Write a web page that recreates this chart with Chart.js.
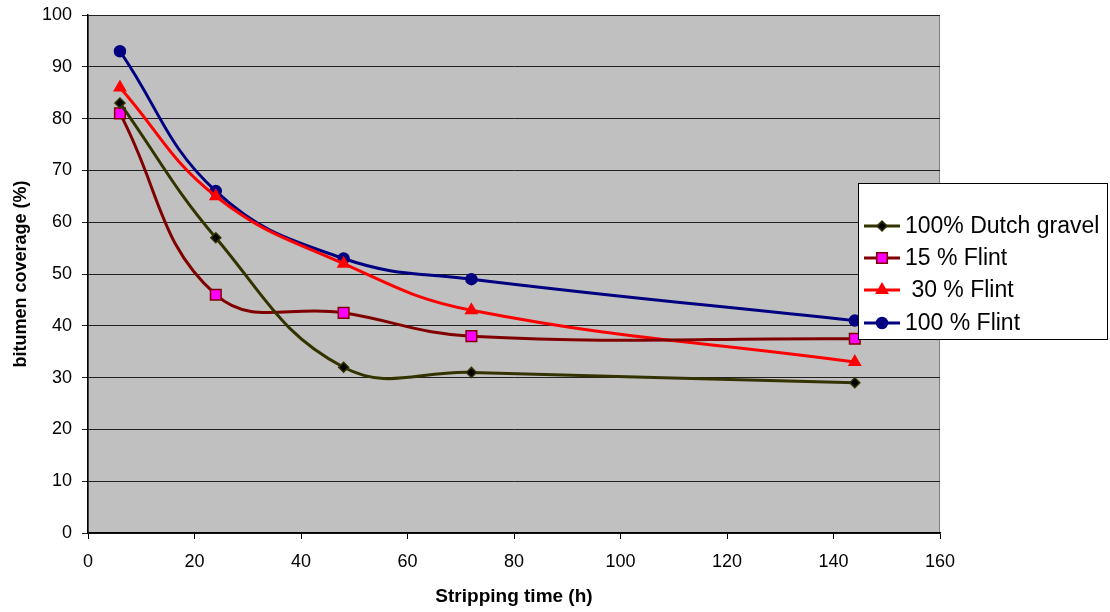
<!DOCTYPE html>
<html>
<head>
<meta charset="utf-8">
<script src="https://cdn.jsdelivr.net/npm/chart.js@4/dist/chart.umd.min.js"></script>
<style>
html,body{margin:0;padding:0;background:#fff;}
#wrap{position:relative;width:1110px;height:612px;}
</style>
</head>
<body>
<div id="wrap"><canvas id="c" width="1110" height="612"></canvas></div>
<script>
const hours = [6, 24, 48, 72, 144];
const seriesNames = ['100% Dutch gravel', '15 % Flint', ' 30 % Flint', '100 % Flint'];
const dutchGravel = [83, 57, 32, 31, 29];
const flint15 = [81, 46, 42.5, 38, 37.5];
const flint30 = [86, 65, 52, 43, 33];
const flint100 = [93, 66, 53, 49, 41];
const xTitle = 'Stripping time (h)';
const yTitle = 'bitumen coverage (%)';

const FONT = '"Liberation Sans", Arial, sans-serif';

function pts(vals){ return hours.map((h,i)=>({x:h,y:vals[i]})); }

const styles = [
  {line:'#333300', fill:'#000000', border:'#333300', shape:'rectRot', r:5},
  {line:'#800000', fill:'#FF00FF', border:'#800000', shape:'rect', r:7.5},
  {line:'#FF0000', fill:'#FF0000', border:'#FF0000', shape:'triangle', r:6.5},
  {line:'#000080', fill:'#000080', border:'#000080', shape:'circle', r:5.5}
];
const values = [dutchGravel, flint15, flint30, flint100];

const datasets = values.map((v,i)=>({
  label: seriesNames[i],
  data: pts(v),
  borderColor: styles[i].line,
  borderWidth: 3,
  backgroundColor: styles[i].fill,
  pointBackgroundColor: styles[i].fill,
  pointBorderColor: styles[i].border,
  pointBorderWidth: 1.5,
  pointStyle: styles[i].shape,
  pointRadius: styles[i].r,
  tension: 0.42,
  fill: false
}));

function drawMarker(ctx, st, x, y){
  ctx.save();
  ctx.fillStyle = st.fill; ctx.strokeStyle = st.border; ctx.lineWidth = 1.5;
  const r = st.r;
  ctx.beginPath();
  if (st.shape === 'circle') { ctx.arc(x,y,r,0,Math.PI*2); }
  else if (st.shape === 'rect') { const s = r*Math.SQRT1_2; ctx.rect(x-s,y-s,2*s,2*s); }
  else if (st.shape === 'rectRot') { ctx.moveTo(x,y-r); ctx.lineTo(x+r,y); ctx.lineTo(x,y+r); ctx.lineTo(x-r,y); ctx.closePath(); }
  else if (st.shape === 'triangle') { ctx.moveTo(x,y-r); ctx.lineTo(x+r*0.87,y+r*0.5); ctx.lineTo(x-r*0.87,y+r*0.5); ctx.closePath(); }
  ctx.fill(); ctx.stroke();
  ctx.restore();
}

const bgPlugin = {
  id:'bg',
  beforeDraw(chart){
    const {ctx, chartArea:a} = chart;
    ctx.save();
    ctx.fillStyle = '#C0C0C0';
    ctx.fillRect(a.left, a.top, a.right-a.left, a.bottom-a.top);
    ctx.strokeStyle = '#808080'; ctx.lineWidth = 1;
    ctx.strokeRect(a.left+0.5, a.top+0.5, a.right-a.left-1, a.bottom-a.top-1);
    ctx.restore();
  }
};

const legendPlugin = {
  id:'customLegend',
  afterDraw(chart){
    const ctx = chart.ctx;
    const bx = 858, by = 183, bw = 250, bh = 157;
    ctx.save();
    ctx.fillStyle = '#fff';
    ctx.fillRect(bx, by, bw, bh);
    ctx.strokeStyle = '#000'; ctx.lineWidth = 1;
    ctx.strokeRect(bx+0.5, by+0.5, bw-1, bh-1);
    const rows = [226, 258, 290, 323];
    ctx.font = '23px ' + FONT;
    ctx.textBaseline = 'middle';
    chart.data.datasets.forEach((ds,i)=>{
      const y = rows[i];
      ctx.strokeStyle = styles[i].line; ctx.lineWidth = 3;
      ctx.beginPath(); ctx.moveTo(864,y); ctx.lineTo(900,y); ctx.stroke();
      drawMarker(ctx, styles[i], 882, y);
      ctx.fillStyle = '#000';
      ctx.fillText(ds.label, 905, y+1);
    });
    ctx.restore();
  }
};

new Chart(document.getElementById('c'), {
  type:'line',
  data:{datasets},
  options:{
    responsive:false,
    animation:false,
    devicePixelRatio:1,
    layout:{padding:{left:0, right:170, top:15, bottom:0}},
    plugins:{legend:{display:false}, tooltip:{enabled:false}},
    scales:{
      x:{
        type:'linear', min:0, max:160,
        ticks:{stepSize:20, color:'#000', font:{family:FONT, size:18}, padding:12, maxRotation:0},
        grid:{drawOnChartArea:false, drawTicks:true, tickLength:6, color:'#000', lineWidth:1},
        border:{color:'#000', width:1.5},
        title:{display:true, text:xTitle, color:'#000', font:{family:FONT, size:19, weight:'bold'}, padding:{top:8}},
        afterFit(s){ s.height = 79; s.paddingLeft = 0; s.paddingRight = 0; }
      },
      y:{
        min:0, max:100,
        ticks:{stepSize:10, color:'#000', font:{family:FONT, size:18}, padding:10},
        grid:{color:'#222', lineWidth:1, tickLength:6, drawTicks:true},
        border:{color:'#000', width:1.5},
        title:{display:true, text:yTitle, color:'#000', font:{family:FONT, size:18, weight:'bold'}, padding:{top:10, bottom:4}},
        afterFit(s){ s.width = 88; s.paddingTop = 0; s.paddingBottom = 0; }
      }
    }
  },
  plugins:[bgPlugin, legendPlugin]
});
</script>
</body>
</html>
